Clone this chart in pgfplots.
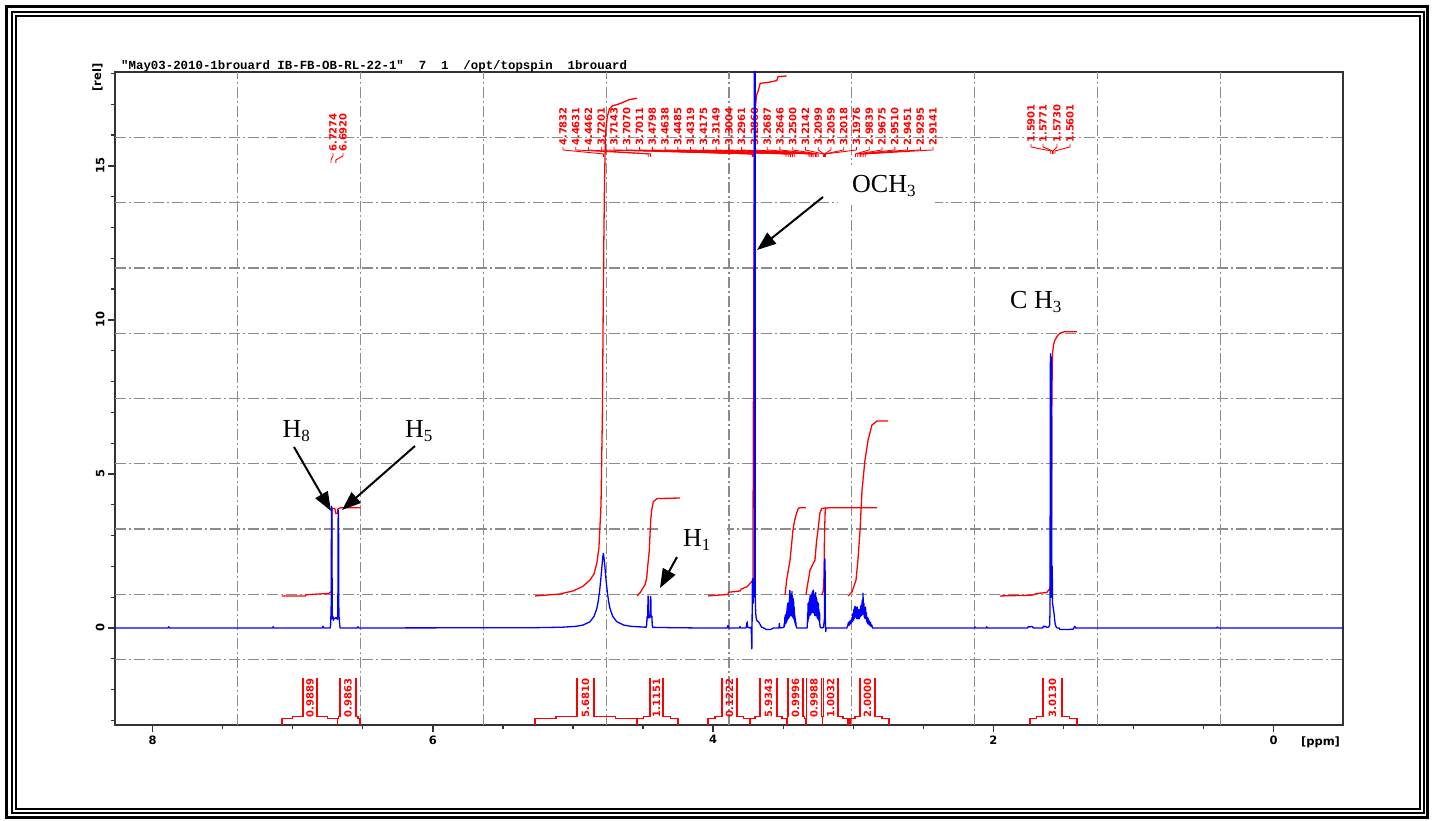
\documentclass[border=0pt]{standalone}
\usepackage{fontspec}
\setmainfont{DejaVu Sans}
\newfontfamily\serif{Liberation Serif}
\newfontfamily\mono{Liberation Mono}
\usepackage{pgfplots}
\pgfplotsset{compat=1.18}
\usetikzlibrary{arrows.meta}
\newcommand\PX[1]{\fpeval{(1273.5-(#1))/140.1}}
\newcommand\PY[1]{\fpeval{(628-(#1))/30.8}}
\newcommand\lab{\fontsize{10}{10}\selectfont\bfseries}
\newcommand\Hf{\serif\fontsize{26}{26}\selectfont}
\newcommand\sub[1]{\raisebox{-4pt}{\fontsize{17}{17}\selectfont #1}}
\tikzset{gridl/.style={black!45, line width=1.3pt, dash pattern=on 11pt off 3pt on 2pt off 3pt}}
% peak label: label x (px), label bottom y (px), ppm value
\newcommand\plab[3]{%
 \node[rotate=90,anchor=west,inner sep=0pt,text=red,font=\lab] at (axis cs:\PX{#1},\PY{#2}) {#3};
 \draw[red,line width=0.9pt] (axis cs:\PX{#1},\PY{#2+1}) -- (axis cs:\PX{#1},\PY{#2+4}) -- (axis cs:#3,\PY{#2+8}) -- (axis cs:#3,\PY{#2+11});
}
% integral bracket: xL, x1, x2, xR (px), label
\newcommand\brk[5]{%
 \draw[red,line width=1.1pt] (axis cs:\PX{#1},\PY{725}) -- (axis cs:\PX{#1},\PY{718.5}) -- (axis cs:\PX{(#1+#2)/2},\PY{718.5}) -- (axis cs:\PX{(#1+#2)/2},\PY{716.5}) -- (axis cs:\PX{#2},\PY{716.5}) -- (axis cs:\PX{#2},\PY{678});
 \draw[red,line width=1.1pt] (axis cs:\PX{#3},\PY{678}) -- (axis cs:\PX{#3},\PY{716.5}) -- (axis cs:\PX{(#3+#4)/2},\PY{716.5}) -- (axis cs:\PX{(#3+#4)/2},\PY{718.5}) -- (axis cs:\PX{#4},\PY{718.5}) -- (axis cs:\PX{#4},\PY{725});
 \node[rotate=90,anchor=west,inner sep=0pt,text=red,font=\lab] at (axis cs:\PX{(#2+#3)/2},\PY{717.5}) {#5};
}
\begin{document}
\begin{tikzpicture}
\begin{axis}[
 at={(115pt,95pt)}, anchor=south west, scale only axis, width=1228pt, height=653pt,
 x dir=reverse, xmin=-0.496, xmax=8.269, ymin=-3.15, ymax=18.05,
 xtick={0,2,4,6,8}, minor xtick={0.5,1,1.5,2.5,3,3.5,4.5,5,5.5,6.5,7,7.5},
 ytick={0,5,10,15}, minor ytick={-3,-2,-1,1,2,3,4,6,7,8,9,11,12,13,14,16,17,18},
 tick pos=left, tick align=outside, major tick length=7pt, minor tick length=4pt,
 tick style={black!80, line width=1.3pt},
 axis line style={black!80, line width=1.6pt},
 ticklabel style={font=\fontsize{11.5}{12}\selectfont\bfseries},
 /pgf/number format/assume math mode=true,
 yticklabel style={rotate=90, anchor=south},
 clip mode=individual,
]
\pgfplotsinvokeforeach{1,...,9}{
 \draw[gridl] (rel axis cs:0.#1,0) -- (rel axis cs:0.#1,1);
 \draw[gridl] (rel axis cs:0,0.#1) -- (rel axis cs:1,0.#1);
}
% white label boxes (hide grid under the annotations)
\fill[white] (axis cs:\PX{658},\PY{505}) rectangle (axis cs:\PX{727},\PY{560});
\fill[white] (axis cs:\PX{838},\PY{165}) rectangle (axis cs:\PX{935},\PY{205});
% peak labels
\plab{333}{152}{6.7274}
\plab{343}{152}{6.6920}
\plab{563.0}{146}{4.7832}
\plab{575.8}{146}{4.4631}
\plab{588.5}{146}{4.4462}
\plab{601.3}{146}{3.7201}
\plab{614.0}{146}{3.7143}
\plab{626.8}{146}{3.7070}
\plab{639.6}{146}{3.7011}
\plab{652.3}{146}{3.4798}
\plab{665.1}{146}{3.4638}
\plab{677.8}{146}{3.4485}
\plab{690.6}{146}{3.4319}
\plab{703.4}{146}{3.4175}
\plab{716.1}{146}{3.3149}
\plab{728.9}{146}{3.3004}
\plab{741.6}{146}{3.2961}
\plab{754.4}{146}{3.2860}
\plab{767.2}{146}{3.2687}
\plab{779.9}{146}{3.2646}
\plab{792.7}{146}{3.2500}
\plab{805.4}{146}{3.2142}
\plab{818.2}{146}{3.2099}
\plab{831.0}{146}{3.2059}
\plab{843.7}{146}{3.2018}
\plab{856.5}{146}{3.1976}
\plab{869.2}{146}{2.9839}
\plab{882.0}{146}{2.9675}
\plab{894.8}{146}{2.9510}
\plab{907.5}{146}{2.9451}
\plab{920.3}{146}{2.9295}
\plab{933.0}{146}{2.9141}
\plab{1031}{143}{1.5901}
\plab{1043}{143}{1.5771}
\plab{1057}{143}{1.5730}
\plab{1070}{143}{1.5601}
% integral brackets
\brk{282}{303}{317}{337.5}{0.9889}
\brk{337.5}{340}{356}{360}{0.9863}
\brk{535}{577}{594}{637}{5.6810}
\brk{637}{650}{663}{678}{1.1151}
\brk{708}{722}{737}{750}{0.1222}
\brk{750}{760}{777}{787}{5.9343}
\brk{787}{788}{803}{806}{0.9996}
\brk{806}{806.5}{821.7}{822.5}{0.9988}
\brk{822.5}{823.3}{838}{848}{1.0032}
\brk{850}{860}{875}{889}{2.0000}
\brk{1030}{1043}{1062}{1077}{3.0130}
% integral curves
\addplot[red, line width=1.3pt] coordinates {(7.077,1.04) (6.91,1.04) (6.905,1.08) (6.745,1.12) (6.73,1.16) (6.724,1.2) (6.7215,3.85) (6.716,3.88) (6.700,3.88) (6.693,3.72) (6.680,3.72) (6.678,3.86) (6.672,3.88) (6.660,3.9) (6.52,3.9)};
\addplot[red, line width=1.3pt] coordinates {(5.27,1.04) (5.10,1.10) (5.0,1.2) (4.93,1.35) (4.88,1.55) (4.85,1.75) (4.83,2.1) (4.815,2.6) (4.80,4.0) (4.79,7.0) (4.785,10.0) (4.78,12.5) (4.775,14.5) (4.77,15.6) (4.765,16.2) (4.755,16.6) (4.74,16.85) (4.72,16.95) (4.68,17.0) (4.65,17.05) (4.60,17.15) (4.543,17.2)};
\addplot[red, line width=1.3pt] coordinates {(4.543,1.04) (4.52,1.15) (4.51,1.23) (4.486,1.40) (4.474,1.62) (4.467,1.99) (4.455,2.53) (4.450,3.08) (4.445,3.51) (4.438,3.83) (4.427,4.10) (4.40,4.2) (4.236,4.22)};
\addplot[red, line width=1.3pt] coordinates {(4.036,1.04) (3.894,1.09) (3.89,1.16) (3.808,1.2) (3.80,1.26) (3.758,1.34) (3.745,1.40) (3.737,1.45) (3.725,1.5) (3.716,1.52) (3.712,8) (3.706,15) (3.700,16.8) (3.690,17.3) (3.677,17.45) (3.664,17.68) (3.60,17.72) (3.546,17.77) (3.536,17.9) (3.475,17.92)};
\addplot[red, line width=1.3pt] coordinates {(3.487,1.07) (3.481,1.3) (3.475,1.56) (3.463,1.88) (3.451,2.2) (3.44,2.7) (3.430,3.18) (3.42,3.45) (3.408,3.67) (3.395,3.85) (3.387,3.9) (3.337,3.9)};
\addplot[red, line width=1.3pt] coordinates {(3.337,1.07) (3.330,1.3) (3.320,1.56) (3.308,1.88) (3.285,2.1) (3.273,2.2) (3.262,2.8) (3.251,3.2) (3.237,3.75) (3.223,3.88) (3.194,3.9)};
\addplot[red, line width=1.3pt] coordinates {(3.225,1.07) (3.214,1.2) (3.209,1.6) (3.205,3.0) (3.200,3.8) (3.195,3.88) (3.18,3.9) (2.83,3.9)};
\addplot[red, line width=1.3pt] coordinates {(3.037,1.04) (3.008,1.17) (2.980,1.56) (2.966,2.21) (2.951,3.18) (2.937,4.48) (2.916,5.45) (2.894,6.10) (2.866,6.59) (2.830,6.72) (2.752,6.72)};
\addplot[red, line width=1.3pt] coordinates {(1.952,1.04) (1.75,1.06) (1.717,1.07) (1.69,1.12) (1.619,1.15) (1.595,1.29) (1.588,1.5) (1.585,4) (1.582,7.5) (1.578,8.9) (1.57,9.2) (1.56,9.35) (1.54,9.5) (1.52,9.58) (1.49,9.62) (1.403,9.62)};
% spectrum
\addplot[blue, line width=1.3pt, line join=round] coordinates {
(8.269,0) (7.89,0) (7.885,0.04) (7.88,0) (7.145,0) (7.14,0.04) (7.135,0)
(6.79,0) (6.785,0.06) (6.78,0)
(6.733,0) (6.730,0.1) (6.7285,0.38) (6.7265,0.28) (6.7235,3.95) (6.721,3.9) (6.7185,0.4) (6.716,0.3) (6.713,0.38) (6.710,0.25) (6.706,0.32) (6.700,0.3) (6.694,0.33) (6.688,0.3) (6.684,0.35) (6.681,0.28) (6.6785,0.4) (6.676,3.82) (6.6735,3.78) (6.671,0.4) (6.668,0.3) (6.665,0.1) (6.662,0)
(6.54,0) (6.535,0.04) (6.53,0)
(5.28,0.009) (5.08,0.024) (4.98,0.053) (4.93,0.092) (4.88,0.198) (4.85,0.373) (4.83,0.635) (4.82,0.864) (4.81,1.2) (4.801,1.61) (4.794,1.97) (4.788,2.28) (4.7835,2.42) (4.779,2.28) (4.772,1.97) (4.765,1.61) (4.756,1.2) (4.746,0.864) (4.736,0.635) (4.716,0.373) (4.686,0.198) (4.636,0.092) (4.586,0.053) (4.50,0.03)
(4.478,0.025) (4.474,0.1) (4.4715,0.36) (4.469,0.3) (4.4665,0.38) (4.4645,1.04) (4.4625,1.0) (4.4605,0.4) (4.458,0.33) (4.4555,0.42) (4.453,0.33) (4.4505,0.4) (4.448,0.35) (4.4465,1.02) (4.4445,0.98) (4.4425,0.4) (4.440,0.35) (4.437,0.38) (4.4345,0.1) (4.431,0.02) (4.30,0.01) (4.10,0)
(3.90,0) (3.894,0.08) (3.888,0) (3.812,0) (3.808,0.05) (3.804,0) (3.765,0) (3.76,0.12) (3.757,0.2) (3.753,0.02) (3.735,0) (3.728,0.03) (3.7235,-0.68) (3.7215,0.3) (3.720,1.55) (3.717,1.6) (3.7145,0.8) (3.712,1.2) (3.709,1.0) (3.7065,1.3) (3.705,60) (3.7005,60) (3.699,1.0) (3.696,0.5) (3.692,0.3) (3.685,0.22) (3.675,0.2) (3.665,0.12) (3.655,0.03) (3.64,0) (3.62,-0.05) (3.59,-0.05) (3.57,0)
(3.530,0) (3.527,0.15) (3.524,0)
(3.495,0.02) (3.492,0.15) (3.490,0.05) (3.488,0.35) (3.4865,0.12) (3.485,0.42) (3.4835,0.15) (3.482,0.38) (3.4805,0.15) (3.479,0.45) (3.4775,0.2) (3.476,0.5) (3.4745,0.2) (3.473,0.62) (3.4715,0.25) (3.470,0.72) (3.4685,0.3) (3.467,0.8) (3.4655,0.3) (3.464,0.75) (3.4625,0.3) (3.461,0.7) (3.4595,0.35) (3.458,0.85) (3.4565,0.35) (3.455,1.0) (3.4535,0.4) (3.452,1.22) (3.4505,0.4) (3.449,1.05) (3.4475,0.4) (3.446,0.95) (3.4445,0.4) (3.443,1.1) (3.4415,0.4) (3.440,1.0) (3.4385,0.4) (3.437,1.18) (3.4355,0.4) (3.434,1.05) (3.4325,0.35) (3.431,0.9) (3.4295,0.35) (3.428,0.95) (3.4265,0.3) (3.425,0.85) (3.4235,0.3) (3.422,0.7) (3.4205,0.25) (3.419,0.5) (3.4175,0.2) (3.416,0.4) (3.4145,0.15) (3.413,0.3) (3.4115,0.1) (3.410,0.2) (3.407,0.05) (3.403,0.0)
(3.330,0) (3.328,0.02) (3.325,0.5) (3.3235,0.2) (3.322,0.8) (3.3205,0.3) (3.319,0.75) (3.3175,0.3) (3.315,0.85) (3.313,0.4) (3.311,0.95) (3.3095,0.4) (3.308,1.05) (3.306,0.5) (3.304,1.0) (3.302,0.45) (3.300,1.1) (3.298,0.5) (3.296,1.05) (3.294,0.5) (3.292,1.15) (3.290,0.55) (3.288,1.2) (3.286,0.5) (3.284,1.23) (3.282,0.5) (3.280,1.1) (3.278,0.45) (3.276,1.05) (3.274,0.4) (3.272,1.08) (3.270,0.45) (3.268,1.15) (3.266,0.4) (3.264,1.0) (3.262,0.4) (3.260,0.95) (3.258,0.35) (3.256,0.85) (3.254,0.3) (3.252,0.75) (3.250,0.3) (3.248,0.8) (3.246,0.25) (3.244,0.6) (3.242,0.2) (3.240,0.5) (3.238,0.1) (3.235,0.02) (3.225,0)
(3.212,0.02) (3.2055,0.3) (3.2035,2.25) (3.2010,2.2) (3.199,0.3) (3.196,-0.12) (3.193,0) (3.05,0)
(3.045,0) (3.038,0.1) (3.034,0.18) (3.032,0.08) (3.028,0.2) (3.025,0.1) (3.020,0.25) (3.016,0.15) (3.012,0.2) (3.008,0.35) (3.005,0.2) (3.002,0.48) (2.999,0.25) (2.996,0.6) (2.993,0.3) (2.990,0.68) (2.987,0.35) (2.984,0.7) (2.981,0.35) (2.978,0.65) (2.975,0.3) (2.972,0.68) (2.969,0.3) (2.966,0.55) (2.963,0.3) (2.960,0.6) (2.957,0.3) (2.954,0.58) (2.951,0.35) (2.948,0.7) (2.945,0.4) (2.942,0.75) (2.939,0.4) (2.936,0.9) (2.933,0.45) (2.930,1.13) (2.927,0.45) (2.924,0.8) (2.921,0.35) (2.918,0.65) (2.915,0.3) (2.912,0.68) (2.909,0.3) (2.906,0.5) (2.903,0.2) (2.900,0.35) (2.897,0.15) (2.894,0.32) (2.891,0.12) (2.888,0.25) (2.885,0.1) (2.882,0.2) (2.879,0.08) (2.876,0.18) (2.873,0.05) (2.868,0.1) (2.862,0.0)
(2.135,0) (2.13,0.03) (2.125,0) (2.05,0) (2.047,0.04) (2.044,0)
(1.755,0) (1.750,0.05) (1.74,0.03) (1.73,0.05) (1.72,0.04) (1.715,0) (1.648,0) (1.643,0.06) (1.635,0.04) (1.628,0.06) (1.62,0.02) (1.605,0.03) (1.598,0.1) (1.5955,0.5) (1.5925,8.9) (1.5905,8.85) (1.5885,1.0) (1.5865,8.8) (1.5845,8.7) (1.5825,1.0) (1.5795,2.0) (1.577,0.8) (1.574,0.7) (1.571,0.6) (1.567,0.5) (1.563,0.3) (1.558,0.12) (1.552,0.04) (1.545,0) (1.53,0) (1.525,-0.05) (1.47,-0.05) (1.43,-0.04) (1.425,0) (1.418,0.05) (1.412,0) (0.405,0) (0.40,0.03) (0.395,0) (-0.496,0)};
\end{axis}
\begin{scope}[x=1pt,y=1pt]
\path (0,0) rectangle (1436,820);
\draw[line width=3.3pt] (6.6,820-6.6) rectangle (1427.4,820-817.5);
\draw[line width=2pt] (12.2,820-12.2) rectangle (1423.6,820-813);
\draw[line width=1.8pt] (15.9,820-15.9) rectangle (1420.2,820-809);
\node[anchor=base west, inner sep=0pt, font=\mono\bfseries\fontsize{12.4}{13}\selectfont] at (121,820-69.5) {"May03-2010-1brouard IB-FB-OB-RL-22-1"~~7~~1~~/opt/topspin~~1brouard};
\node[rotate=90, inner sep=0pt, font=\fontsize{11.5}{12}\selectfont\bfseries] at (97.5,820-77.5) {[rel]};
\node[inner sep=0pt, font=\fontsize{11.5}{12}\selectfont\bfseries] at (1320.5,820-742) {[ppm]};
\node[anchor=base west, inner sep=0pt] at (282.5,820-438) {\Hf H\sub{8}};
\node[anchor=base west, inner sep=0pt] at (405,820-438) {\Hf H\sub{5}};
\node[anchor=base west, inner sep=0pt] at (683,820-547) {\Hf H\sub{1}};
\node[anchor=base west, inner sep=0pt] at (852,820-193) {\Hf OCH\sub{3}};
\node[anchor=base west, inner sep=0pt] at (1010,820-309) {\Hf C H\sub{3}};
\draw[-{Triangle[length=19pt,width=14pt]}, line width=2pt] (294,820-447) -- (331,820-511);
\draw[-{Triangle[length=19pt,width=14pt]}, line width=2pt] (415,820-446) -- (342,820-510);
\draw[-{Triangle[length=19pt,width=14pt]}, line width=2pt] (677,820-557) -- (660,820-588);
\draw[-{Triangle[length=19pt,width=14pt]}, line width=2pt] (823,820-197) -- (757,820-250);
\end{scope}
\end{tikzpicture}
\end{document}
